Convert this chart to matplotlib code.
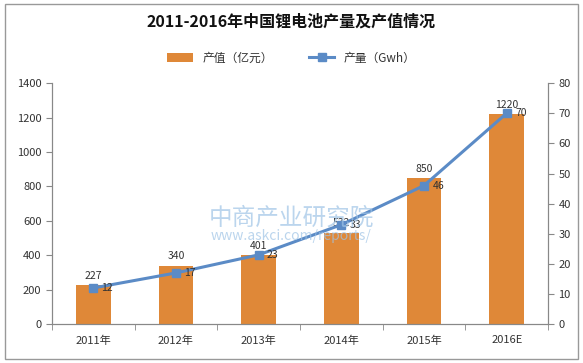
import matplotlib.pyplot as plt
from matplotlib.patches import Rectangle

plt.rcParams['font.family'] = ['Noto Sans CJK SC', 'DejaVu Sans']

# 数据
years = ['2011年', '2012年', '2013年', '2014年', '2015年', '2016E']
output_value = [227, 340, 401, 532, 850, 1220]   # 产值（亿元）
production = [12, 17, 23, 33, 46, 70]            # 产量（Gwh）

bar_color = '#DF8838'
line_color = '#5B8BC6'
text_color = '#333333'

fig = plt.figure(figsize=(5.83, 3.63), dpi=100)
ax = fig.add_axes([0.089, 0.107, 0.851, 0.664])
ax2 = ax.twinx()

x = list(range(len(years)))
bars = ax.bar(x, output_value, width=0.42, color=bar_color, zorder=2, label='产值（亿元）')
line, = ax2.plot(x, production, color=line_color, lw=2.2, marker='s', ms=6,
                 zorder=3, label='产量（Gwh）')

# 数据标签
for xi, v in zip(x, output_value):
    ax.annotate(str(v), (xi, v), xytext=(0, 3), textcoords='offset points',
                ha='center', va='bottom', fontsize=7.5, color=text_color)
for xi, v in zip(x, production):
    ax2.annotate(str(v), (xi, v), xytext=(6, 0), textcoords='offset points',
                 ha='left', va='center', fontsize=7.5, color=text_color)

ax.set_xlim(-0.5, len(years) - 0.5)
ax.set_ylim(0, 1400)
ax.set_yticks(range(0, 1401, 200))
ax2.set_ylim(0, 80)
ax2.set_yticks(range(0, 81, 10))

ax.set_xticks(x)
ax.set_xticklabels(years)
ax.set_xticks([i - 0.5 for i in range(len(years) + 1)], minor=True)
ax.tick_params(axis='x', which='major', length=0, pad=8, labelsize=8, labelcolor=text_color)
ax.tick_params(axis='x', which='minor', length=4, color='#888888')
ax.tick_params(axis='y', length=4, color='#888888', labelsize=8, labelcolor=text_color)
ax2.tick_params(axis='y', length=4, color='#888888', labelsize=8, labelcolor=text_color)

for a in (ax, ax2):
    a.spines['top'].set_visible(False)
    for s in ('left', 'right', 'bottom'):
        a.spines[s].set_color('#888888')
        a.spines[s].set_linewidth(0.8)

# 水印
fig.text(0.50, 0.40, '中商产业研究院', fontsize=17, color='#9FC4E6', alpha=0.7,
         ha='center', va='center', zorder=0)
fig.text(0.50, 0.35, 'www.askci.com/reports/', fontsize=10, color='#9FC4E6', alpha=0.7,
         ha='center', va='center', zorder=0)

fig.text(0.5, 0.94, '2011-2016年中国锂电池产量及产值情况', fontsize=11.5,
         fontweight='bold', ha='center', va='center', color='#111111')
fig.legend(handles=[bars, line], loc='center', bbox_to_anchor=(0.5, 0.84), ncol=2,
           frameon=False, fontsize=8.5, handlelength=2.2, columnspacing=3,
           labelcolor=text_color)

fig.patches.append(Rectangle((0.008, 0.012), 0.984, 0.976, transform=fig.transFigure,
                             fill=False, edgecolor='#999999', lw=1))

fig.savefig('out.png', dpi=100)
